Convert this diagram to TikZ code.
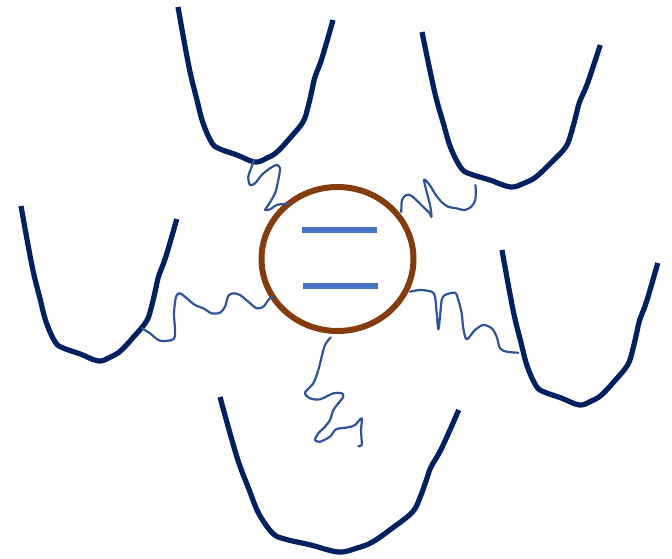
\documentclass[tikz,border=0pt]{standalone}
\usetikzlibrary{shapes.geometric}
\definecolor{ucol}{RGB}{0,32,96}
\definecolor{wcol}{RGB}{47,85,151}
\definecolor{ccol}{RGB}{132,60,12}
\definecolor{bcol}{RGB}{68,114,196}
\tikzset{
  ushape/.style={draw=ucol, line width=5.2pt, line join=round},
  wiggle/.style={draw=wcol, line width=2.2pt, line join=round, line cap=round},
  cellring/.style={draw=ccol, line width=6pt, ellipse, inner sep=0pt, minimum width=152pt, minimum height=144pt},
  bar/.style={draw=bcol, line width=6pt}
}
\newcommand\Ushape[3]{%
  \draw[ushape, shift={(#1,#2)}, xscale=#3] plot[smooth, tension=0.6] coordinates {
    (0,0) (11,60) (19,93) (25,116) (34,136) (42,142) (59,148) (77,155) (89,151)
    (99,145) (112,131) (125,115) (130,100) (134,83) (137,70) (144,51) (155,13)};}
\begin{document}
\begin{tikzpicture}[x=1pt,y=-1pt]
\useasboundingbox (0,0) rectangle (672,558);
% U shapes
\Ushape{178}{7}{1}
\Ushape{422}{32}{1.15}
\Ushape{21}{206}{1.005}
\Ushape{502}{250}{1.005}
\Ushape{220}{397}{1.54}
% central cell
\node[cellring] (cell) at (337.5,259) {};
\draw[bar] (301.7,229.7) -- (376.7,229.7);
\draw[bar] (303.3,286.3) -- (377.7,286.3);
% wiggles
\draw[wiggle] plot[smooth, tension=0.5] coordinates {
  (254,160) (251.7,166.7) (248.3,176.7) (250,185) (255,183.3) (261.7,175) (270,168.3)
  (276.7,165) (280,168.3) (278.3,180) (275,193.3) (268.3,205) (265,210) (270,209.3)
  (276.7,205) (283.3,204) (288.3,203.3)};
\draw[wiggle] plot[smooth, tension=0.5] coordinates {
  (401.3,212) (402,200) (406.3,195) (411.3,195.7) (418,201.7) (424.7,208.3)
  (429.7,213.3) (431.5,216.7) (430,205) (424,180) (429.7,185) (434.7,193.3)
  (441.3,201.7) (448,206.7) (456.3,208.3) (464.7,210) (471.3,206.7) (475.3,200)
  (475.7,188.3) (475.3,185)};
\draw[wiggle] plot[smooth, tension=0.5] coordinates {
  (141.7,328.3) (150,333.3) (160,340.7) (173.3,339.3) (175,330) (174,313.3) (176,296.7)
  (180,293.3) (186.7,298.3) (195,305) (203.3,308.3) (211.7,313.3) (220,312.7)
  (225,306.7) (228.3,296) (233.3,293.3) (240,295) (248.3,301.7) (256.7,308.3)
  (263.3,306.7) (268.3,300) (271.7,296.7) (273.3,298.3)};
\draw[wiggle] plot[smooth, tension=0.5] coordinates {
  (410,291.7) (420,290) (431.7,291.7) (435,296.7) (436.7,313.3) (438.3,329.3)
  (440,316.7) (441.7,300) (445,295) (455,292.7) (458.3,300) (461.7,313.3)
  (463.3,328.3) (466.7,339.3) (475,330) (483.3,325) (491.7,328.3) (496.7,336.7)
  (500,348.3) (506.7,351.7) (518.3,352.7)};
\draw[wiggle] plot[smooth, tension=0.5] coordinates {
  (330.7,337.3) (325,345) (321.7,356.7) (318.3,370) (313.3,383.3) (305,392.7)
  (310,398.3) (320,399.3) (333.3,393.3) (341.7,393.3) (343.3,396.7) (338.3,403.3)
  (333.3,410) (330,420) (325,426.7) (318.3,433.3) (315,440) (320,441.7) (330,436.7)
  (335,430) (340,428.3) (348.3,427.3) (355,425) (361.7,418.3) (361,430) (361.7,445)
  (358.3,446)};
\end{tikzpicture}
\end{document}
